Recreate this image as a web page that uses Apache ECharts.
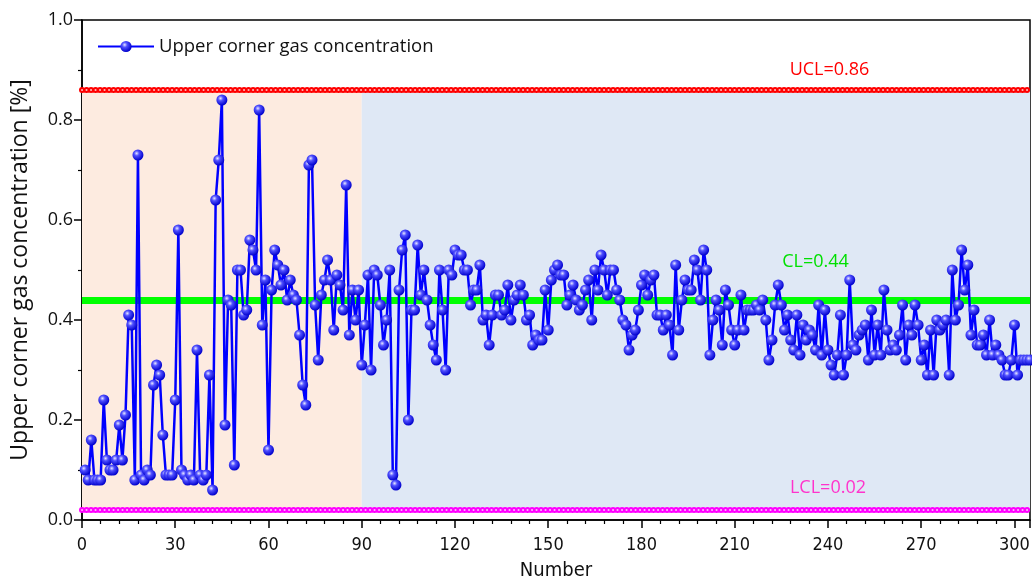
<!DOCTYPE html>
<html>
<head>
<meta charset="utf-8">
<script src="https://cdn.jsdelivr.net/npm/echarts@6/dist/echarts.min.js"></script>
<style>
  html, body { margin: 0; padding: 0; background: #fff; }
  #chart { width: 1032px; height: 580px; }
</style>
</head>
<body>
<div id="chart"></div>
<script>
// sample number 1..305, gas concentration (%)
const concentration = [
  0.10, 0.08, 0.16, 0.08, 0.08, 0.08, 0.24, 0.12, 0.10, 0.10,
  0.12, 0.19, 0.12, 0.21, 0.41, 0.39, 0.08, 0.73, 0.09, 0.08,
  0.10, 0.09, 0.27, 0.31, 0.29, 0.17, 0.09, 0.09, 0.09, 0.24,
  0.58, 0.10, 0.09, 0.08, 0.09, 0.08, 0.34, 0.09, 0.08, 0.09,
  0.29, 0.06, 0.64, 0.72, 0.84, 0.19, 0.44, 0.43, 0.11, 0.50,
  0.50, 0.41, 0.42, 0.56, 0.54, 0.50, 0.82, 0.39, 0.48, 0.14,
  0.46, 0.54, 0.51, 0.47, 0.50, 0.44, 0.48, 0.45, 0.44, 0.37,
  0.27, 0.23, 0.71, 0.72, 0.43, 0.32, 0.45, 0.48, 0.52, 0.48,
  0.38, 0.49, 0.47, 0.42, 0.67, 0.37, 0.46, 0.40, 0.46, 0.31,
  0.39, 0.49, 0.30, 0.50, 0.49, 0.43, 0.35, 0.40, 0.50, 0.09,
  0.07, 0.46, 0.54, 0.57, 0.20, 0.42, 0.42, 0.55, 0.45, 0.50,
  0.44, 0.39, 0.35, 0.32, 0.50, 0.42, 0.30, 0.50, 0.49, 0.54,
  0.53, 0.53, 0.50, 0.50, 0.43, 0.46, 0.46, 0.51, 0.40, 0.41,
  0.35, 0.41, 0.45, 0.45, 0.41, 0.42, 0.47, 0.40, 0.44, 0.45,
  0.47, 0.45, 0.40, 0.41, 0.35, 0.37, 0.36, 0.36, 0.46, 0.38,
  0.48, 0.50, 0.51, 0.49, 0.49, 0.43, 0.45, 0.47, 0.44, 0.42,
  0.43, 0.46, 0.48, 0.40, 0.50, 0.46, 0.53, 0.50, 0.45, 0.50,
  0.50, 0.46, 0.44, 0.40, 0.39, 0.34, 0.37, 0.38, 0.42, 0.47,
  0.49, 0.45, 0.48, 0.49, 0.41, 0.41, 0.38, 0.41, 0.39, 0.33,
  0.51, 0.38, 0.44, 0.48, 0.46, 0.46, 0.52, 0.50, 0.44, 0.54,
  0.50, 0.33, 0.40, 0.44, 0.42, 0.35, 0.46, 0.43, 0.38, 0.35,
  0.38, 0.45, 0.38, 0.42, 0.42, 0.42, 0.43, 0.42, 0.44, 0.40,
  0.32, 0.36, 0.43, 0.47, 0.43, 0.38, 0.41, 0.36, 0.34, 0.41,
  0.33, 0.39, 0.36, 0.38, 0.37, 0.34, 0.43, 0.33, 0.42, 0.34,
  0.31, 0.29, 0.33, 0.41, 0.29, 0.33, 0.48, 0.35, 0.34, 0.37,
  0.38, 0.39, 0.32, 0.42, 0.33, 0.39, 0.33, 0.46, 0.38, 0.34,
  0.35, 0.34, 0.37, 0.43, 0.32, 0.39, 0.37, 0.43, 0.39, 0.32,
  0.35, 0.29, 0.38, 0.29, 0.40, 0.38, 0.39, 0.40, 0.29, 0.50,
  0.40, 0.43, 0.54, 0.46, 0.51, 0.37, 0.42, 0.35, 0.35, 0.37,
  0.33, 0.40, 0.33, 0.35, 0.33, 0.32, 0.29, 0.29, 0.32, 0.39,
  0.29, 0.32, 0.32, 0.32, 0.32
];
const UCL = 0.86;
const CL = 0.44;
const LCL = 0.02;
const stageBreak = 90;   // boundary between the two shaded stages
const xMax = 305;

const seriesName = "Upper corner gas concentration";
const points = concentration.map((v, i) => [i + 1, v]);

const beadLine = (y, color, inner) => [
  { yAxis: y, lineStyle: { color: color, width: 6, type: [0.1, 4.4], cap: "round" } },
  { yAxis: y, lineStyle: { color: inner, width: 2, type: [0.1, 4.4], cap: "round" } },
];

const limitText = (x, y, text, color) => ({
  coord: [x, y],
  symbolSize: 0,
  label: { show: true, position: "inside", formatter: text, color: color,
           fontSize: 18, fontFamily: "Open Sans" },
});

const font = "Open Sans";
const narrow = "'DejaVu Sans Condensed', 'Noto Sans'";

const option = {
  animation: false,
  backgroundColor: "#fff",
  grid: { left: 82, right: 2, top: 20, bottom: 60, show: true, outerBoundsMode: "none",
          borderColor: "#000", borderWidth: 1.5, backgroundColor: "transparent" },
  legend: {
    left: 92, top: 32, itemWidth: 56, itemHeight: 14, itemGap: 4,
    data: [seriesName],
    textStyle: { fontSize: 18.5, color: "#111", fontFamily: font },
  },
  xAxis: {
    type: "value", min: 0, max: xMax, interval: 30,
    name: "Number", nameLocation: "middle", nameGap: 41,
    nameTextStyle: { fontSize: 20, color: "#111", fontFamily: narrow },
    axisLine: { lineStyle: { color: "#000", width: 1.5 } },
    axisTick: { length: 8, lineStyle: { color: "#000", width: 1.5 } },
    minorTick: { show: true, splitNumber: 5, length: 4, lineStyle: { color: "#000", width: 1.2 } },
    axisLabel: { fontSize: 18, color: "#111", margin: 16, fontFamily: narrow },
    splitLine: { show: false },
  },
  yAxis: {
    type: "value", min: 0, max: 1, interval: 0.2,
    name: "Upper corner gas concentration [%]", nameLocation: "middle", nameGap: 50,
    nameTextStyle: { fontSize: 23, color: "#111", fontFamily: font },
    axisLine: { lineStyle: { color: "#000", width: 1.5 } },
    axisTick: { length: 8, lineStyle: { color: "#000", width: 1.5 } },
    minorTick: { show: true, splitNumber: 2, length: 4, lineStyle: { color: "#000", width: 1.2 } },
    axisLabel: { fontSize: 18, color: "#111", margin: 9, fontFamily: font,
                 formatter: (v) => v.toFixed(1) },
    splitLine: { show: false },
  },
  series: [
    {
      // reference lines and shaded stages
      type: "line", data: [], z: 1, silent: true,
      markArea: {
        silent: true,
        data: [
          [{ xAxis: 0, yAxis: LCL, itemStyle: { color: "#FDEBE0" } }, { xAxis: stageBreak, yAxis: UCL }],
          [{ xAxis: stageBreak, yAxis: LCL, itemStyle: { color: "#DFE8F5" } }, { xAxis: xMax, yAxis: UCL }],
        ],
      },
      markLine: {
        silent: true, symbol: "none", label: { show: false },
        data: [
          ...beadLine(UCL, "#ff0000", "#ffb8b8"),
          ...beadLine(LCL, "#ff00ff", "#ffb8ff"),
          { yAxis: CL, lineStyle: { color: "#00ff00", width: 7, type: "solid" } },
        ],
      },
      markPoint: {
        silent: true, symbol: "circle",
        data: [
          limitText(240.5, 0.90, "UCL=0.86", "#ff0000"),
          limitText(236, 0.516, "CL=0.44", "#00e000"),
          limitText(240, 0.064, "LCL=0.02", "#ff33cc"),
        ],
      },
    },
    {
      name: seriesName,
      type: "line", z: 5,
      data: points,
      symbol: "circle", symbolSize: 11,
      lineStyle: { color: "#0000ff", width: 2.5 },
      itemStyle: {
        color: {
          type: "radial", x: 0.38, y: 0.35, r: 0.65,
          colorStops: [
            { offset: 0, color: "#e8e8ff" },
            { offset: 0.35, color: "#5050ff" },
            { offset: 1, color: "#0000cc" },
          ],
        },
        borderWidth: 0,
      },
    },
  ],
};

const myChart = echarts.init(document.getElementById("chart"));
myChart.setOption(option);
</script>
</body>
</html>
